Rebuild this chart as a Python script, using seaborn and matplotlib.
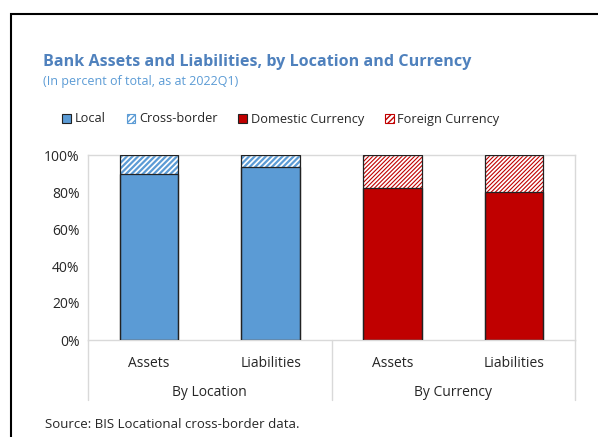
import matplotlib
matplotlib.use("Agg")
import matplotlib.pyplot as plt
import matplotlib.transforms as mtransforms
from matplotlib.patches import Patch, Rectangle
import pandas as pd
import seaborn as sns

# data (share of total, %)
bar_keys = ["loc_assets", "loc_liab", "cur_assets", "cur_liab"]
bar_labels = ["Assets", "Liabilities", "Assets", "Liabilities"]
group_labels = ["By Location", "By Currency"]
base_share = [89.7, 93.6, 82.4, 80.0]   # Local / Domestic Currency
total_share = [100, 100, 100, 100]
legend_labels = ["Local", "Cross-border", "Domestic Currency", "Foreign Currency"]

blue = "#5B9BD5"
red = "#C00000"
bar_colors = [blue, blue, red, red]

sns.set_theme(style="white")
plt.rcParams["font.family"] = ["Open Sans", "DejaVu Sans"]

df = pd.DataFrame({"key": bar_keys, "base": base_share, "total": total_share})
pal = dict(zip(bar_keys, bar_colors))

fig = plt.figure(figsize=(5.98, 4.37), dpi=100)
ax = fig.add_axes([88 / 598, 1 - 340 / 437, 487 / 598, 185 / 437])

# hatched upper part (full height, covered below by the base bars)
sns.barplot(data=df, x="key", y="total", hue="key", palette=pal, order=bar_keys,
            width=0.48, legend=False, ax=ax)
for p, c in zip(ax.patches, bar_colors):
    p.set_facecolor("white")
    p.set_edgecolor(c)
    p.set_linewidth(0)
    if c == blue:
        p.set_hatch("//////")
        if hasattr(p, "set_hatch_linewidth"):
            p.set_hatch_linewidth(1.6)
    else:
        p.set_hatch("////////")
        if hasattr(p, "set_hatch_linewidth"):
            p.set_hatch_linewidth(0.8)
n_top = len(ax.patches)

# solid lower part
sns.barplot(data=df, x="key", y="base", hue="key", palette=pal, order=bar_keys,
            width=0.48, legend=False, ax=ax, saturation=1)
for p in ax.patches[n_top:]:
    p.set_edgecolor("#222222")
    p.set_linewidth(0.9)

# outline around the whole stack
for p in ax.patches[:n_top]:
    x0, w = p.get_x(), p.get_width()
    ax.add_patch(Rectangle((x0, 0), w, 100, fill=False, edgecolor="#222222", lw=0.9, zorder=3))

ax.set_xlim(-0.5, 3.5)
ax.set_ylim(0, 100)
ax.set_yticks(range(0, 101, 20))
ax.set_yticklabels([f"{v}%" for v in range(0, 101, 20)], fontsize=10)
ax.tick_params(axis="y", length=0, pad=6)
ax.set_xticks([])
ax.set_xlabel("")
ax.set_ylabel("")
for s in ax.spines.values():
    s.set_color("#D9D9D9")
    s.set_linewidth(1)

# two-level category axis
trans = mtransforms.blended_transform_factory(ax.transData, ax.transAxes)
for i, lab in enumerate(bar_labels):
    ax.text(i, -0.125, lab, transform=trans, ha="center", va="center", fontsize=10)
for g, lab in enumerate(group_labels):
    ax.text(2 * g + 0.5, -0.285, lab, transform=trans, ha="center", va="center", fontsize=10)
for xs in [-0.5, 1.5, 3.5]:
    ax.plot([xs, xs], [0, -0.325], transform=trans, color="#D9D9D9", lw=1, clip_on=False)

# legend
handles = [
    Patch(facecolor=blue, edgecolor="#222222", lw=0.8),
    Patch(facecolor="white", edgecolor=blue, hatch="//////", lw=0.8),
    Patch(facecolor=red, edgecolor="#222222", lw=0.8),
    Patch(facecolor="white", edgecolor=red, hatch="//////", lw=0.8),
]
fig.legend(handles, legend_labels, loc="center", bbox_to_anchor=(281 / 598, 1 - 119 / 437),
           ncol=4, frameon=False, fontsize=9.2, handlelength=0.7, handleheight=0.7,
           handletextpad=0.3, columnspacing=1.6)

# titles and source
fig.text(43 / 598, 1 - 62 / 437, "Bank Assets and Liabilities, by Location and Currency",
         fontsize=11.6, fontweight="bold", color="#4F81BD", va="center")
fig.text(43 / 598, 1 - 82 / 437, "(In percent of total, as at 2022Q1)",
         fontsize=9, color="#5B9BD5", va="center")
fig.text(45 / 598, 1 - 425 / 437, "Source: BIS Locational cross-border data.",
         fontsize=9.5, va="center")

# outer frame (runs off the right and bottom edges)
fig.add_artist(Rectangle((11 / 598, -0.1), 1.2, 1 - 14 / 437 + 0.1, transform=fig.transFigure,
                         fill=False, edgecolor="black", lw=1.5))

fig.savefig("out.png", dpi=100)
